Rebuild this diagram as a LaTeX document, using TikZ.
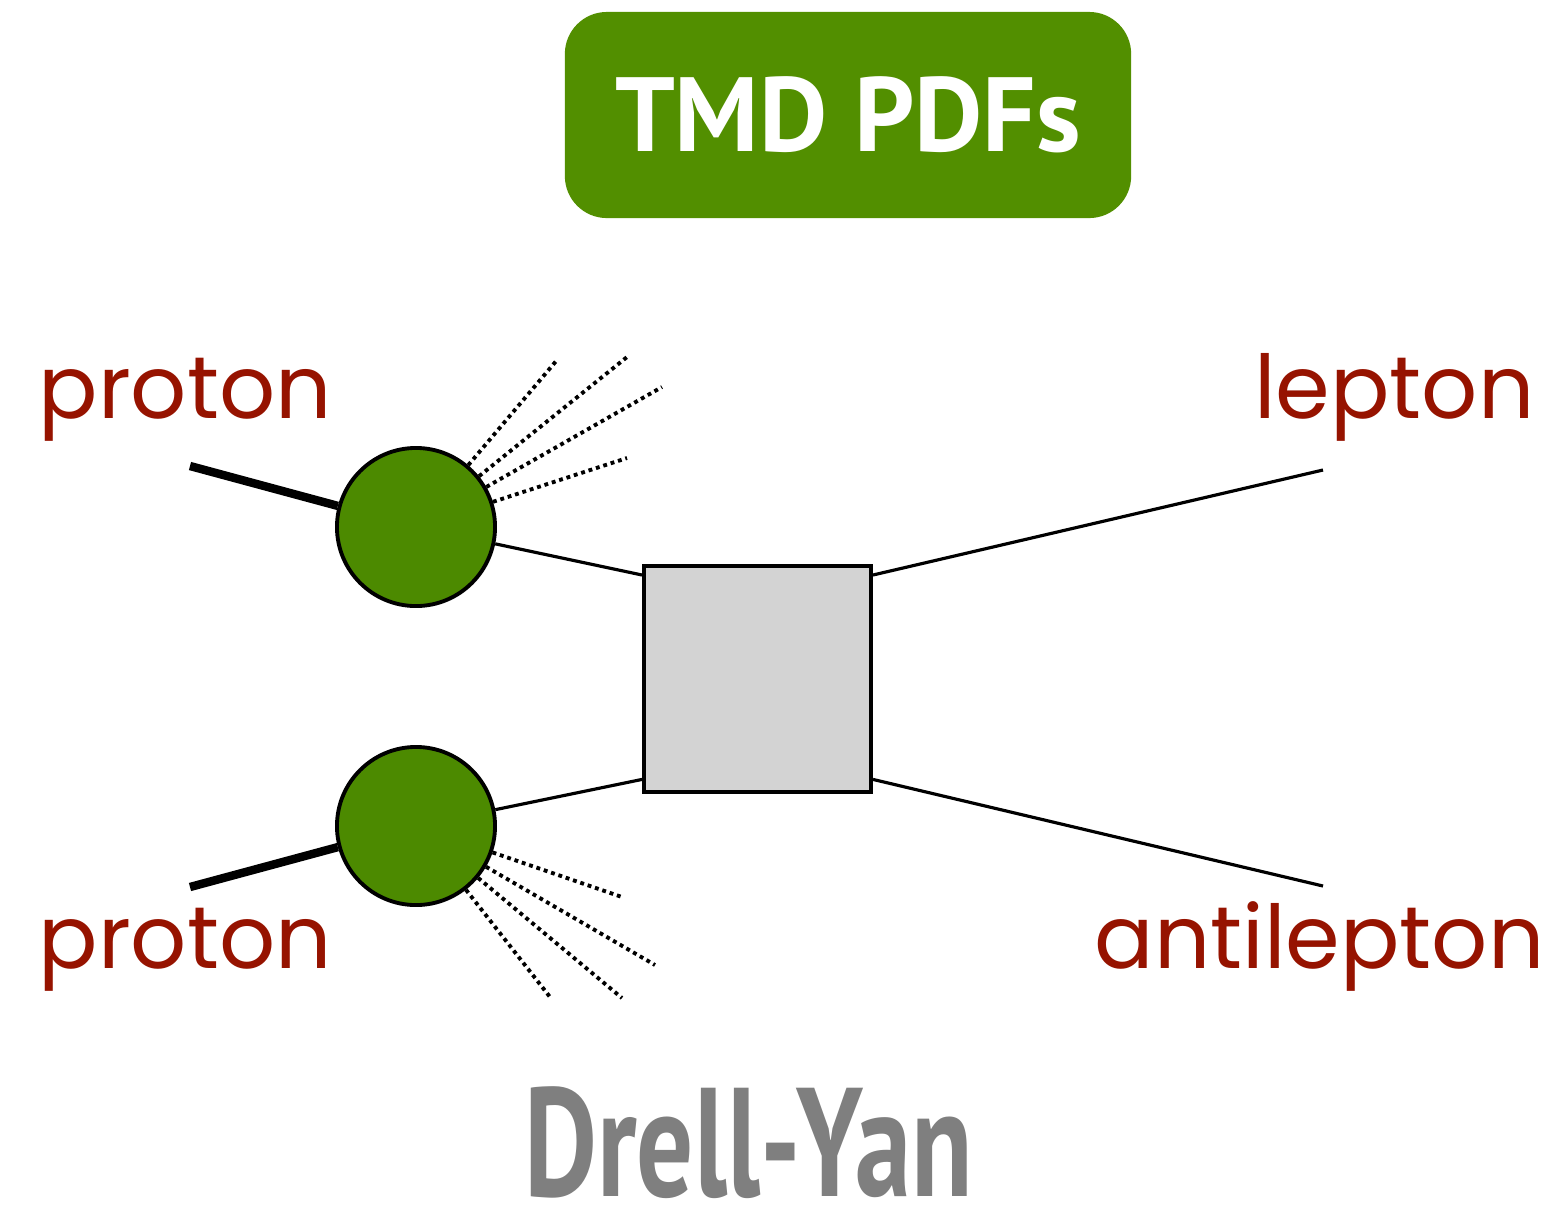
\documentclass[tikz,border=0pt]{standalone}
\usepackage{fontspec}
\setmainfont{Poppins}
\newfontfamily\dinfont{PT Sans}
\usetikzlibrary{shadows}
\definecolor{tmdgreen}{HTML}{528F00}
\definecolor{blobgreen}{HTML}{4C8A00}
\definecolor{hardgray}{HTML}{D3D3D3}
\definecolor{labelred}{HTML}{961300}
\definecolor{dygray}{HTML}{7F7F7F}

\begin{document}
\begin{tikzpicture}[x=0.01cm, y=-0.01cm,
  titlebox/.style={fill=tmdgreen, rounded corners=0.42cm, minimum width=5.66cm,
    minimum height=2.06cm, text=white, font=\dinfont\bfseries\fontsize{30}{30}\selectfont},
  blob/.style={circle, draw, line width=1.1pt, fill=blobgreen, minimum size=1.58cm,
    inner sep=0pt, drop shadow={opacity=0.1, shadow xshift=0.5pt, shadow yshift=-0.5pt}},
  hard/.style={draw, line width=1.1pt, fill=hardgray, minimum width=2.27cm,
    minimum height=2.26cm, inner sep=0pt,
    drop shadow={opacity=0.1, shadow xshift=0.5pt, shadow yshift=-0.5pt}},
  beam/.style={line width=2.4pt},
  leg/.style={line width=0.9pt},
  spray/.style={line width=1.1pt, dash pattern=on 1.1pt off 1.1pt},
  lbl/.style={text=labelred, font=\fontsize{25}{30}\selectfont, inner sep=0pt}
]
  \useasboundingbox (0,0) rectangle (1563,1211);

  \node[titlebox] (title) at (848,115) {TMD PDFs};

  \coordinate (beamtop) at (190,466);
  \coordinate (beambot) at (190,887);
  \coordinate (lep) at (1323,470);
  \coordinate (alep) at (1323,886);
  \foreach \i/\p in {1/{557,360},2/{627,357},3/{662,387},4/{627,458}}
    \coordinate (up\i) at (\p);
  \foreach \i/\p in {1/{622,897},2/{655,965},3/{622,998},4/{550,997}}
    \coordinate (dn\i) at (\p);

  \node[blob] (ptop) at (416,527) {};
  \node[blob] (pbot) at (416,826) {};
  \node[hard] (hard) at (757.5,679) {};

  \draw[beam] (beamtop) -- (ptop);
  \draw[beam] (beambot) -- (pbot);
  \foreach \i in {1,...,4} {
    \draw[spray] (ptop) -- (up\i);
    \draw[spray] (pbot) -- (dn\i);
  }
  \draw[leg] (ptop) -- (hard.138);
  \draw[leg] (pbot) -- (hard.221);
  \draw[leg] (hard.42) -- (lep);
  \draw[leg] (hard.319) -- (alep);

  \node[lbl, anchor=base west] (protontop) at (38,418) {proton};
  \node[lbl, anchor=base west] (protonbot) at (38,968) {proton};
  \node[lbl, anchor=base east] (lepton) at (1535,418) {lepton};
  \node[lbl, anchor=base east] (antilepton) at (1545,968) {antilepton};

  \node[anchor=base, text=dygray, inner sep=0pt,
    font=\dinfont\bfseries\fontsize{44}{44}\selectfont] (dy) at (748.5,1196)
    {\scalebox{0.73}[1]{Drell-Yan}};
\end{tikzpicture}
\end{document}
